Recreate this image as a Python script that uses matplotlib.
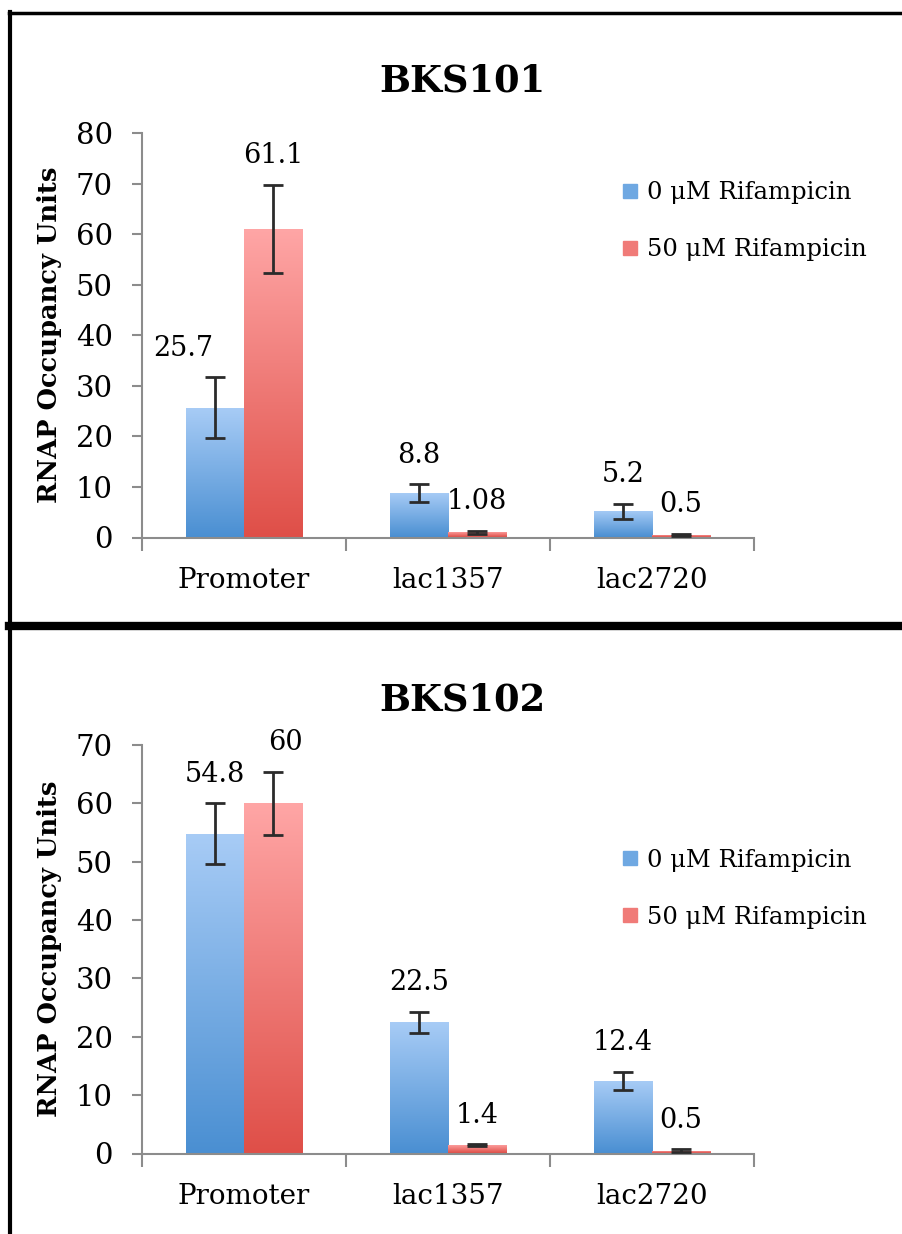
import numpy as np
import matplotlib
matplotlib.use("Agg")
import matplotlib.pyplot as plt
from matplotlib.colors import LinearSegmentedColormap
from matplotlib.lines import Line2D

plt.rcParams["font.family"] = ["DejaVu Serif", "DejaVu Sans"]

# ---- data -------------------------------------------------------------------
CATEGORIES = ["Promoter", "lac1357", "lac2720"]
SERIES = ["0 μM Rifampicin", "50 μM Rifampicin"]

BKS101_0 = [25.7, 8.8, 5.2]
BKS101_50 = [61.1, 1.08, 0.5]
BKS101_0_ERR = [6.0, 1.7, 1.5]
BKS101_50_ERR = [8.7, 0.3, 0.2]

BKS102_0 = [54.8, 22.5, 12.4]
BKS102_50 = [60, 1.4, 0.5]
BKS102_0_ERR = [5.2, 1.8, 1.55]
BKS102_50_ERR = [5.4, 0.15, 0.2]

# ---- style ------------------------------------------------------------------
BLUE = LinearSegmentedColormap.from_list("b", ["#4a8fd2", "#a8ccf6"])
RED = LinearSegmentedColormap.from_list("r", ["#df4f48", "#ffa6a6"])
BLUE_MID, RED_MID = "#6fa8e2", "#f07b78"
SPINE = "#8c8c8c"
W = 0.285


def gradient_bars(ax, x, vals, cmap):
    bars = ax.bar(x, vals, W, color="none", edgecolor="none", zorder=2)
    grad = np.linspace(0, 1, 256).reshape(-1, 1)
    for b in bars:
        x0, h = b.get_x(), b.get_height()
        im = ax.imshow(grad, cmap=cmap, origin="lower", aspect="auto",
                       extent=[x0, x0 + b.get_width(), 0, h], zorder=2)
        im.set_clip_path(b)
    return bars


def panel(ax, title, v0, v50, e0, e50, ymax, ystep, leg_y, title_pad, label_shift):
    x = np.arange(len(CATEGORIES)) + 0.5
    gradient_bars(ax, x - W / 2, v0, BLUE)
    gradient_bars(ax, x + W / 2, v50, RED)
    ax.errorbar(x - W / 2, v0, yerr=e0, fmt="none", ecolor="#2b2b2b",
                elinewidth=2, capsize=7, capthick=2, zorder=3)
    ax.errorbar(x + W / 2, v50, yerr=e50, fmt="none", ecolor="#2b2b2b",
                elinewidth=2, capsize=7, capthick=2, zorder=3)

    # value labels (a few were nudged by hand in the original)
    for i, (xs, vs, es) in enumerate([(x - W / 2, v0, e0), (x + W / 2, v50, e50)]):
        for j in range(len(vs)):
            dx = label_shift.get((i, j), 0)
            ax.annotate(f"{vs[j]:g}", (xs[j], vs[j] + es[j]),
                        xytext=(dx, 21), textcoords="offset points",
                        ha="center", va="center", fontsize=19.5, zorder=4)

    ax.set_xlim(0, len(CATEGORIES))
    ax.set_ylim(0, ymax)
    ax.set_yticks(np.arange(0, ymax + 1, ystep))
    ax.set_xticks(x)
    ax.set_xticklabels(CATEGORIES, fontsize=20)
    ax.set_xticks(np.arange(len(CATEGORIES) + 1), minor=True)
    ax.tick_params(axis="x", which="major", length=0, pad=21)
    ax.tick_params(axis="x", which="minor", length=9, width=1.5, color=SPINE,
                   direction="out")
    ax.tick_params(axis="y", length=7, width=1.5, color=SPINE, labelsize=21, pad=14)
    for s in ["top", "right"]:
        ax.spines[s].set_visible(False)
    for s in ["left", "bottom"]:
        ax.spines[s].set_color(SPINE)
        ax.spines[s].set_linewidth(1.5)
    ax.set_ylabel("RNAP Occupancy Units", fontsize=18.5, fontweight="bold", labelpad=10)
    ax.set_title(title, fontsize=26.5, fontweight="bold", x=0.523, pad=title_pad)

    handles = [Line2D([], [], marker="s", ls="", markersize=10, color=c)
               for c in (BLUE_MID, RED_MID)]
    ax.legend(handles, SERIES, loc="upper left", bbox_to_anchor=(0.765, leg_y),
              frameon=False, fontsize=17.5, handlelength=0.8, handletextpad=0.3,
              labelspacing=1.4, borderaxespad=0)


fig = plt.figure(figsize=(9.03, 12.34), dpi=100)
ax1 = fig.add_axes([142 / 903, 1 - 537.5 / 1234, 612 / 903, 404.5 / 1234])
ax2 = fig.add_axes([142 / 903, 1 - 1153.5 / 1234, 612 / 903, 408.5 / 1234])

panel(ax1, "BKS101", BKS101_0, BKS101_50, BKS101_0_ERR, BKS101_50_ERR,
      80, 10, 0.905, 30, {(0, 0): -23})
panel(ax2, "BKS102", BKS102_0, BKS102_50, BKS102_0_ERR, BKS102_50_ERR,
      70, 10, 0.77, 25, {(1, 0): 9})

# black frame around the two panels
fig.add_artist(Line2D([10 / 903, 10 / 903], [0, 1 - 12 / 1234], color="black",
                      lw=3, transform=fig.transFigure))
fig.add_artist(Line2D([9 / 903, 1], [1 - 13 / 1234, 1 - 13 / 1234], color="black",
                      lw=2.5, transform=fig.transFigure))
fig.add_artist(Line2D([9 / 903, 1], [1 - 626 / 1234, 1 - 626 / 1234], color="black",
                      lw=6, transform=fig.transFigure))

fig.savefig("out.png", dpi=100, facecolor="white")
